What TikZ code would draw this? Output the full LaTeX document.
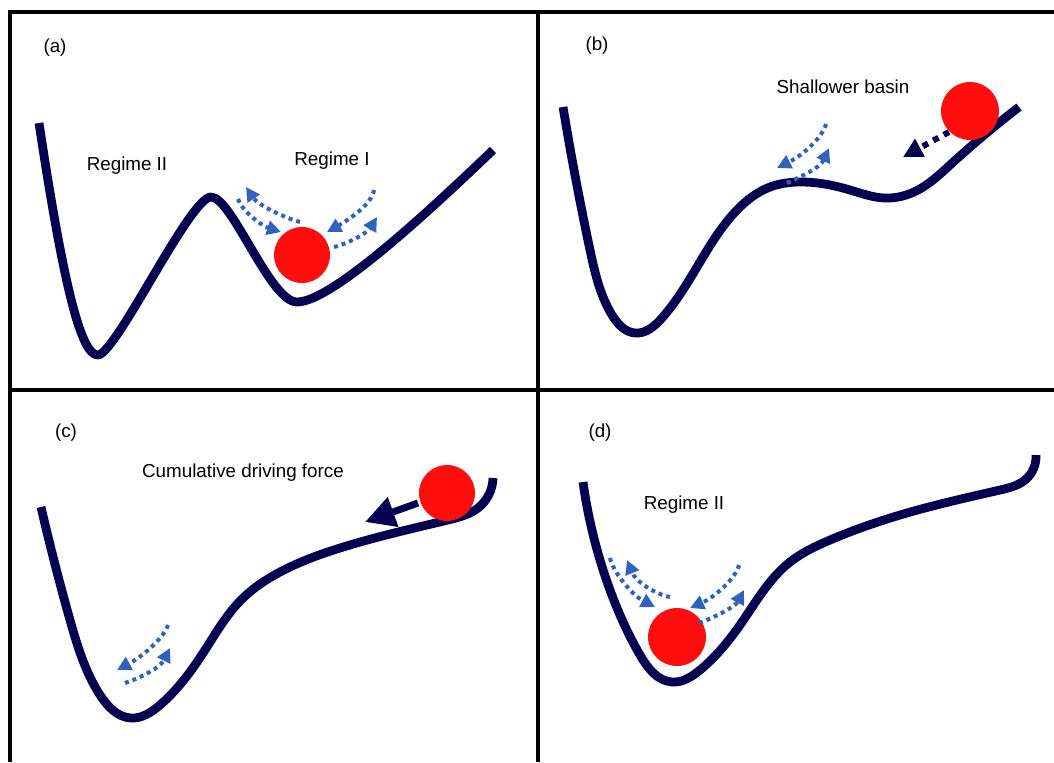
\documentclass[tikz,border=0pt]{standalone}
\usepackage{fontspec}
\setmainfont{Liberation Sans}
\usetikzlibrary{arrows.meta,hobby}
\definecolor{navy}{RGB}{2,2,80}
\definecolor{arrblue}{RGB}{46,98,188}
\definecolor{ballred}{RGB}{255,14,14}
\begin{document}
\begin{tikzpicture}[x=0.02cm,y=-0.02cm,
  frame/.style={line width=2.27pt, black},
  curveline/.style={line width=5pt, navy, line join=round},
  landscape/.style={curveline, use Hobby shortcut},
  ball/.style={circle, fill=ballred, inner sep=0pt},
  hop/.style={line width=2.27pt, arrblue, dash pattern=on 2.27pt off 2.27pt, -{Triangle[length=8pt,width=8pt]}},
  push/.style={line width=3.4pt, navy, dash pattern=on 3.4pt off 3.4pt, -{Triangle[length=11pt,width=11pt]}},
  force/.style={line width=4pt, navy, -{Triangle[length=17pt,width=17pt]}},
  lbl/.style={font=\fontsize{10.7}{12}\selectfont, inner sep=0pt, anchor=base}
]
\useasboundingbox (0,0) rectangle (1054,762);
\fill[white] (0,0) rectangle (1054,762);

% frame
\draw[frame] (10,762) -- (10,12) -- (1054,12);
\draw[frame] (538,12) -- (538,762);
\draw[frame] (10,389.5) -- (1054,389.5);

% ---------------- (a)
\draw[curveline] (39,123) .. controls (62,275) and (80,356) .. (98,355)
  .. controls (116,354) and (190,197) .. (211,197)
  .. controls (232,197) and (270,302) .. (297,302)
  .. controls (330,302) and (420,220) .. (493,150);
\node[ball, minimum size=1.12cm] (balla) at (302,255) {};
\draw[hop] (300,222) .. controls (285,218) and (258,205) .. (246,187);
\draw[hop] (238,199) .. controls (241,210) and (262,226) .. (281,232);
\draw[hop] (374,190) .. controls (372,205) and (345,222) .. (327,232);
\draw[hop] (334,247) .. controls (350,243) and (368,232) .. (377,217);
\node[lbl] (la) at (55,52) {(a)};
\node[lbl] (rIIa) at (127,170) {Regime II};
\node[lbl] (rIa) at (332,165) {Regime I};

% ---------------- (b)
\draw[landscape] (563,107) .. (590,250) .. (612,315) .. (635,333) .. (662,318) .. (700,262) .. (737,210) .. (770,187) .. (800,182) .. (850,190) .. (884,198) .. (918,190) .. (950,165) .. (1019,107);
\node[ball, minimum size=1.16cm] (ballb) at (970,111) {};
\draw[push] (949,132) -- (903,157);
\draw[hop] (826,124) .. controls (823,136) and (805,154) .. (777,168);
\draw[hop] (787,183) .. controls (800,177) and (820,168) .. (829,148);
\node[lbl] (lb) at (597,50) {(b)};
\node[lbl] (shb) at (843,93) {Shallower basin};

% ---------------- (c)
\draw[landscape] (41,507) .. (70,620) .. (100,695) .. (131,718) .. (160,705) .. (205,650) .. (241,600) .. (280,572) .. (340,548) .. (448,520) .. (478,508) .. (493,478);
\node[ball, minimum size=1.12cm] (ballc) at (447,493) {};
\draw[force] (418,503) -- (365,522);
\draw[hop] (168,625) .. controls (164,637) and (145,655) .. (117,670);
\draw[hop] (125,683) .. controls (140,678) and (160,668) .. (170,648);
\node[lbl] (lc) at (66,437) {(c)};
\node[lbl] (cdf) at (243,477) {Cumulative driving force};

% ---------------- (d)
\draw[landscape] (583,482) .. (610,590) .. (640,655) .. (672,682) .. (700,670) .. (740,625) .. (790,562) .. (830,540) .. (900,515) .. (1000,490) .. (1025,480) .. (1036,455);
\node[ball, minimum size=1.16cm] (balld) at (677,637) {};
\draw[hop] (670,597) .. controls (655,594) and (636,582) .. (627,560);
\draw[hop] (610,558) .. controls (613,572) and (632,595) .. (655,607);
\draw[hop] (739,565) .. controls (736,578) and (715,597) .. (690,608);
\draw[hop] (699,623) .. controls (713,618) and (735,607) .. (744,590);
\node[lbl] (ld) at (600,437) {(d)};
\node[lbl] (rIId) at (684,509) {Regime II};
\end{tikzpicture}
\end{document}
